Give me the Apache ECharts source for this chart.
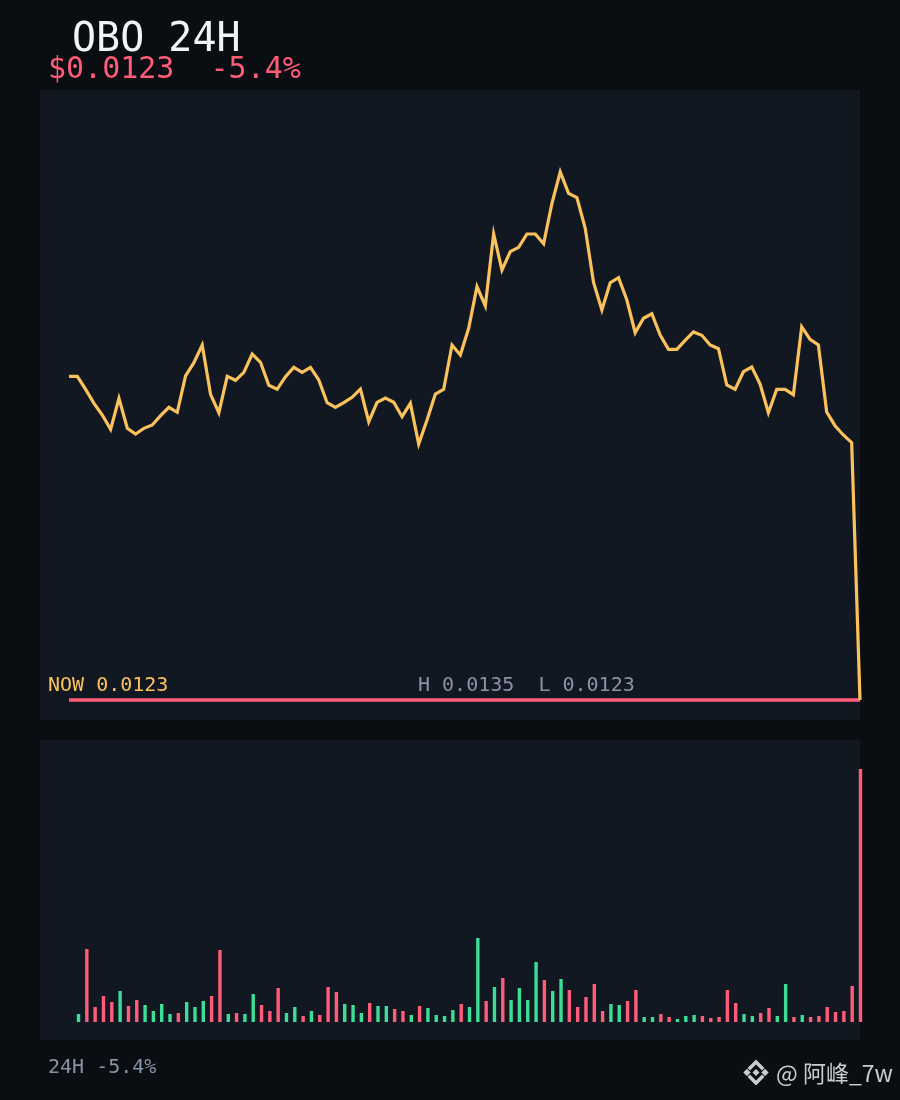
<!DOCTYPE html>
<html>
<head>
<meta charset="utf-8">
<style>html,body{margin:0;padding:0;background:#0a0d12}#c{width:900px;height:1100px}</style>
<script src="https://cdn.jsdelivr.net/npm/echarts@6/dist/echarts.min.js"></script>
</head>
<body>
<div id="c"></div>
<script>
const titleText = 'OBO 24H';
const priceText = '$0.0123  -5.4%';
const nowText = 'NOW 0.0123';
const rangeText = 'H 0.0135  L 0.0123';
const footText = '24H -5.4%';
const markText = '@ 阿峰_7w';
const priceHigh = 0.0135;
const priceLow = 0.0123;
const prices = [
0.0130357,0.0130357,0.0130061,0.0129743,0.0129477,0.0129152,0.0129857,0.0129175,0.0129045,0.0129175,
0.0129250,0.0129461,0.0129652,0.0129539,0.0130364,0.0130666,0.0131068,0.0129948,0.0129529,0.0130357,
0.0130266,0.0130448,0.0130864,0.0130675,0.0130152,0.0130061,0.0130348,0.0130561,0.0130448,0.0130561,
0.0130273,0.0129757,0.0129652,0.0129757,0.0129879,0.0130068,0.0129325,0.0129766,0.0129864,0.0129766,
0.0129439,0.0129743,0.0128818,0.0129364,0.0129955,0.0130061,0.0131068,0.0130841,0.0131448,0.0132393,
0.0131955,0.0133591,0.0132773,0.0133189,0.0133288,0.0133591,0.0133591,0.0133370,0.0134288,0.0135000,
0.0134516,0.0134416,0.0133720,0.0132489,0.0131864,0.0132484,0.0132598,0.0132091,0.0131348,0.0131675,
0.0131779,0.0131295,0.0130970,0.0130970,0.0131175,0.0131364,0.0131289,0.0131068,0.0130984,0.0130159,
0.0130061,0.0130461,0.0130568,0.0130182,0.0129529,0.0130061,0.0130061,0.0129939,0.0131484,0.0131198,
0.0131068,0.0129545,0.0129234,0.0129023,0.0128848,0.0123000];
const lowLine = [
0.0123,0.0123,0.0123,0.0123,0.0123,0.0123,0.0123,0.0123,0.0123,0.0123,
0.0123,0.0123,0.0123,0.0123,0.0123,0.0123,0.0123,0.0123,0.0123,0.0123,
0.0123,0.0123,0.0123,0.0123,0.0123,0.0123,0.0123,0.0123,0.0123,0.0123,
0.0123,0.0123,0.0123,0.0123,0.0123,0.0123,0.0123,0.0123,0.0123,0.0123,
0.0123,0.0123,0.0123,0.0123,0.0123,0.0123,0.0123,0.0123,0.0123,0.0123,
0.0123,0.0123,0.0123,0.0123,0.0123,0.0123,0.0123,0.0123,0.0123,0.0123,
0.0123,0.0123,0.0123,0.0123,0.0123,0.0123,0.0123,0.0123,0.0123,0.0123,
0.0123,0.0123,0.0123,0.0123,0.0123,0.0123,0.0123,0.0123,0.0123,0.0123,
0.0123,0.0123,0.0123,0.0123,0.0123,0.0123,0.0123,0.0123,0.0123,0.0123,
0.0123,0.0123,0.0123,0.0123,0.0123,0.0123];
const volumes = [
0,8,73,15,26,20,31,16,22,17,
11,18,8,9,20,15,21,26,72,8,
9,8,28,17,11,34,9,15,6,11,
7,35,30,18,17,9,19,16,16,13,
11,7,16,14,7,6,12,18,15,84,
21,35,44,22,34,22,60,42,31,43,
32,15,25,38,11,18,17,21,32,5,
5,8,5,3,6,7,6,4,5,32,
19,8,6,9,14,6,38,5,7,5,
6,15,10,11,36,253];
// 1 = green bar, 0 = red bar
const barSides = [
1,1,0,0,0,0,1,0,0,1,
1,1,1,0,1,1,1,0,0,1,
0,1,1,0,0,0,1,1,0,1,
0,0,0,1,1,1,0,1,1,0,
0,1,0,1,1,1,1,0,1,1,
0,1,0,1,1,1,1,0,1,1,
0,0,0,0,0,1,1,0,0,1,
1,0,0,1,1,1,0,0,0,0,
0,1,1,0,0,1,1,0,1,0,
0,0,0,0,0,0];
const labels = prices.map((_, i) => String(i));

const MONO = '"DejaVu Sans Mono", monospace';
const BG = '#0a0d12', PANEL = '#111821', YEL = '#fbc25c', RED = '#ff5c7a', GRN = '#3ddc97', GREY = '#8793a6', WHITE = '#f0f3f8', WM = '#c9ccd1';

function txt(s, x, y, size, color, font, weight) {
  return {type:'text', x, y, silent:true, z:10, style:{text:s, fill:color, fontFamily:font||MONO, fontSize:size, fontWeight:weight||'normal', verticalAlign:'middle'}};
}
function poly(points){ return {type:'polygon', silent:true, z:10, shape:{points}, style:{fill:WM}}; }

const chart = echarts.init(document.getElementById('c'), null, {renderer:'canvas', width:900, height:1100});
chart.setOption({
  animation:false,
  backgroundColor:BG,
  graphic:[
    {type:'rect', silent:true, z:-1, shape:{x:40,y:90,width:820,height:630}, style:{fill:PANEL}},
    {type:'rect', silent:true, z:-1, shape:{x:40,y:740,width:820,height:300}, style:{fill:PANEL}},
    txt(titleText, 72, 41, 40, WHITE),
    txt(priceText, 48, 70, 30, RED),
    txt(nowText, 48, 686, 20, YEL),
    txt(rangeText, 418, 686, 20, GREY),
    txt(footText, 48, 1068, 20, GREY),
    txt(markText, 776, 1073, 23, WM, '"Noto Sans CJK SC", sans-serif'),
    poly([[756,1069],[759.5,1072.5],[756,1076],[752.5,1072.5]]),
    poly([[747,1068.8],[750.7,1072.5],[747,1076.2],[743.3,1072.5]]),
    poly([[765,1068.8],[768.7,1072.5],[765,1076.2],[761.3,1072.5]]),
    poly([[756,1059.5],[764.5,1068],[762,1070.5],[756,1064.5],[750,1070.5],[747.5,1068]]),
    poly([[756,1085.5],[764.5,1077],[762,1074.5],[756,1080.5],[750,1074.5],[747.5,1077]])
  ],
  grid:[
    {left:69, right:40, top:172, bottom:400},
    {left:70.2, right:39.5, top:769, bottom:78}
  ],
  xAxis:[
    {type:'category', gridIndex:0, data:labels, boundaryGap:false, show:false},
    {type:'category', gridIndex:1, data:labels, boundaryGap:false, show:false}
  ],
  yAxis:[
    {type:'value', gridIndex:0, min:priceLow, max:priceHigh, show:false, splitLine:{show:false}},
    {type:'value', gridIndex:1, min:0, max:Math.max(...volumes), show:false, splitLine:{show:false}}
  ],
  series:[
    {type:'line', xAxisIndex:0, yAxisIndex:0, data:lowLine, showSymbol:false, symbol:'none', clip:false, silent:true, z:2,
     lineStyle:{color:RED, width:3.4}},
    {type:'line', xAxisIndex:0, yAxisIndex:0, data:prices, showSymbol:false, symbol:'none', clip:false, silent:true, z:3,
     lineStyle:{color:YEL, width:3.2, join:'miter'}},
    {type:'bar', xAxisIndex:1, yAxisIndex:1, barWidth:3.4, clip:false, silent:true,
     data:volumes.map((v,i)=>({value:v, itemStyle:{color: barSides[i] ? GRN : RED}}))}
  ]
});
</script>
</body>
</html>
